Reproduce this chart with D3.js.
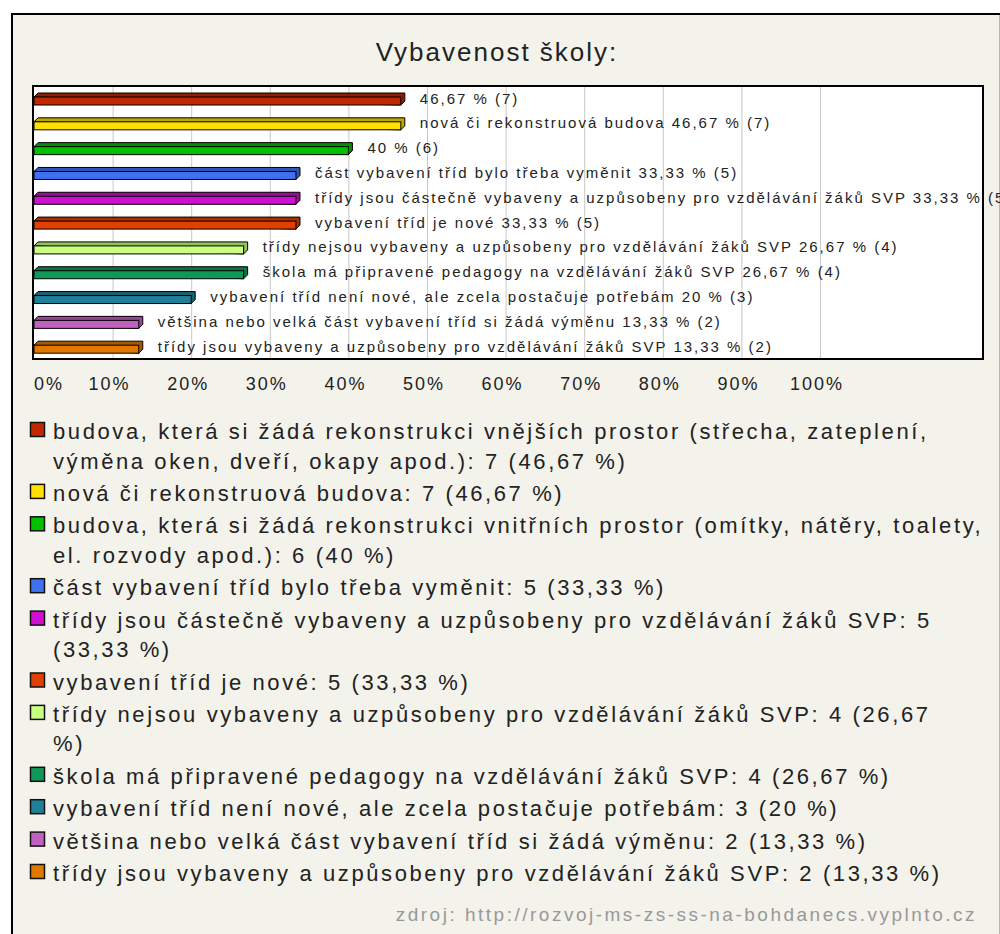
<!DOCTYPE html>
<html>
<head>
<meta charset="utf-8">
<script src="https://cdn.jsdelivr.net/npm/d3@7"></script>
<style>
  body { margin: 0; background: #fff; }
  text { font-family: "Liberation Sans", Arial, sans-serif; fill: #222; }
</style>
</head>
<body>
<div id="chart"></div>
<script>
// data
var names = [
  "budova, která si žádá rekonstrukci vnějších prostor (střecha, zateplení, výměna oken, dveří, okapy apod.)",
  "nová či rekonstruová budova",
  "budova, která si žádá rekonstrukci vnitřních prostor (omítky, nátěry, toalety, el. rozvody apod.)",
  "část vybavení tříd bylo třeba vyměnit",
  "třídy jsou částečně vybaveny a uzpůsobeny pro vzdělávání žáků SVP",
  "vybavení tříd je nové",
  "třídy nejsou vybaveny a uzpůsobeny pro vzdělávání žáků SVP",
  "škola má připravené pedagogy na vzdělávání žáků SVP",
  "vybavení tříd není nové, ale zcela postačuje potřebám",
  "většina nebo velká část vybavení tříd si žádá výměnu",
  "třídy jsou vybaveny a uzpůsobeny pro vzdělávání žáků SVP"
];
var counts = [7, 7, 6, 5, 5, 5, 4, 4, 3, 2, 2];
var percents = [46.67, 46.67, 40, 33.33, 33.33, 33.33, 26.67, 26.67, 20, 13.33, 13.33];
var colors = ["#c02800", "#ffe000", "#00c000", "#4070f0", "#d010d0", "#e04000",
              "#c8ff80", "#109858", "#208098", "#c060c0", "#e07800"];
var tickValues = [0, 10, 20, 30, 40, 50, 60, 70, 80, 90, 100];
// words on the first legend line where the reference wraps (0 = one line)
var legendWrap = [9, 0, 10, 0, 11, 0, 11, 0, 0, 0, 0];
var title = "Vybavenost školy:";
var source = "zdroj: http://rozvoj-ms-zs-ss-na-bohdanecs.vyplnto.cz";

var W = 1000, H = 934;
var svg = d3.select("#chart").append("svg")
  .attr("width", W).attr("height", H);

// frame
svg.append("rect").attr("x", 12).attr("y", 14).attr("width", 987).attr("height", H)
  .attr("fill", "#f3f2eb");
svg.append("line").attr("x1", 12).attr("x2", 12).attr("y1", 13).attr("y2", H)
  .attr("stroke", "#000").attr("stroke-width", 2);
svg.append("line").attr("x1", 11).attr("x2", 1000).attr("y1", 14).attr("y2", 14)
  .attr("stroke", "#000").attr("stroke-width", 2);
svg.append("line").attr("x1", 999.5).attr("x2", 999.5).attr("y1", 15).attr("y2", H)
  .attr("stroke", "#b8b8b0").attr("stroke-width", 1);

svg.append("text").attr("x", 497).attr("y", 61)
  .attr("text-anchor", "middle").style("font-size", "26px").style("letter-spacing", "2px")
  .text(title);

var plot = {left: 33, right: 983, top: 86, bottom: 359};
var x = d3.scaleLinear().domain([0, 100]).range([34, 820]);
var y = d3.scaleBand().domain(d3.range(names.length)).range([plot.top, plot.bottom]);

svg.append("rect").attr("x", plot.left).attr("y", plot.top)
  .attr("width", plot.right - plot.left).attr("height", plot.bottom - plot.top)
  .attr("fill", "#fff");

svg.append("g").selectAll("line").data(tickValues.slice(1)).join("line")
  .attr("x1", d => x(d) + 0.5).attr("x2", d => x(d) + 0.5)
  .attr("y1", plot.top).attr("y2", plot.bottom)
  .attr("stroke", "#c8c8c8").attr("stroke-width", 1);

// 3d bars
var depth = 4, barH = 8;
var fmt = p => String(p).replace(".", ",");
var bars = svg.append("g").selectAll("g").data(d3.range(names.length)).join("g");

bars.append("path")
  .attr("fill", i => d3.color(colors[i]).darker(0.8))
  .attr("stroke", "#000").attr("stroke-width", 1).attr("stroke-linejoin", "round")
  .attr("d", function(i) {
    var x0 = x(0), x1 = x(percents[i]), yt = y(i) + 11;
    return "M" + x0 + "," + yt + "L" + (x0 + depth) + "," + (yt - depth) +
      "L" + (x1 + depth) + "," + (yt - depth) + "L" + (x1 + depth) + "," + (yt + barH - depth) +
      "L" + x1 + "," + (yt + barH) + "Z";
  });
bars.append("rect")
  .attr("x", x(0)).attr("y", i => y(i) + 11)
  .attr("width", i => x(percents[i]) - x(0)).attr("height", barH)
  .attr("fill", i => colors[i]).attr("stroke", "#000").attr("stroke-width", 1);

bars.append("text")
  .attr("x", i => x(percents[i]) + depth + 15)
  .attr("y", i => y(i) + 17.5)
  .style("font-size", "15px").style("letter-spacing", "2px")
  .text(i => (names[i].length < 80 ? names[i] + " " : "") + fmt(percents[i]) + " % (" + counts[i] + ")");

svg.append("rect").attr("x", plot.left).attr("y", plot.top)
  .attr("width", plot.right - plot.left).attr("height", plot.bottom - plot.top)
  .attr("fill", "none").attr("stroke", "#000").attr("stroke-width", 2);

// axis labels
svg.append("g").selectAll("text").data(tickValues).join("text")
  .attr("x", d => Math.max(x(d) - 3, 49)).attr("y", 390)
  .attr("text-anchor", "middle").style("font-size", "18px").style("letter-spacing", "2px")
  .text(d => d + "%");

// legend
var legend = svg.append("g");
var yPos = 439;
names.forEach(function(n, i) {
  var words = (n + ": " + counts[i] + " (" + fmt(percents[i]) + " %)").split(" ");
  var lines = legendWrap[i] ? [words.slice(0, legendWrap[i]), words.slice(legendWrap[i])] : [words];
  legend.append("rect").attr("x", 30.5).attr("y", yPos - 16.5).attr("width", 14).attr("height", 14)
    .attr("fill", colors[i]).attr("stroke", "#111").attr("stroke-width", 1.5);
  var t = legend.append("text").style("font-size", "22px").style("letter-spacing", "2.6px");
  lines.forEach(function(l, k) {
    if (k > 0) yPos += 29.5;
    t.append("tspan").attr("x", 53).attr("y", yPos).text(l.join(" "));
  });
  yPos += 32.4;
});

svg.append("text").attr("x", 977).attr("y", 921)
  .attr("text-anchor", "end").style("font-size", "19px").style("letter-spacing", "2.5px")
  .style("fill", "#999").text(source);
</script>
</body>
</html>
